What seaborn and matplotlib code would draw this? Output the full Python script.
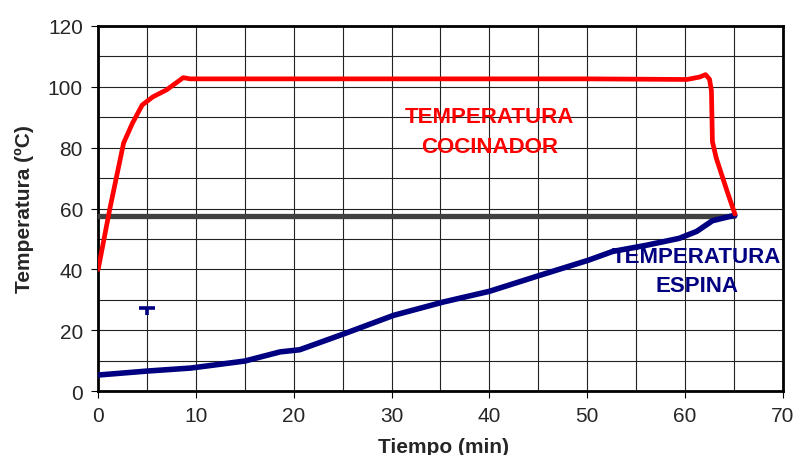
import numpy as np
import pandas as pd
import matplotlib
matplotlib.use("Agg")
import matplotlib.pyplot as plt
import seaborn as sns
from matplotlib.ticker import MultipleLocator

# chart values
cocinador_t = [0, 1.2, 2.6, 3.5, 4.5, 5.6, 7.0, 8.7, 9.4, 20, 30, 40, 50, 60.2, 61.5, 62.1, 62.5, 62.7, 62.8, 63.2, 64.3, 65.1]
cocinador_temp = [40, 60, 81.5, 88, 94, 96.7, 99, 103, 102.6, 102.6, 102.6, 102.6, 102.6, 102.4, 103.2, 104, 102.5, 98.7, 82, 76.5, 65.7, 58.2]

espina_t = [0, 5, 9.5, 15, 18.6, 20.6, 25.1, 30.2, 35.3, 40.0, 45.1, 50.1, 52.6, 56, 59.4, 61.2, 62.8, 65.1]
espina_temp = [5.3, 6.6, 7.6, 9.9, 12.9, 13.6, 18.8, 24.9, 29.3, 32.8, 38.0, 43.0, 45.9, 47.9, 50.2, 52.5, 56.0, 57.8]

limite_t = [0, 65]
limite_temp = [57.5, 57.5]

punto_t = [5]
punto_temp = [27.4]

df_coc = pd.DataFrame({"t": cocinador_t, "temp": cocinador_temp})
df_esp = pd.DataFrame({"t": espina_t, "temp": espina_temp})
df_lim = pd.DataFrame({"t": limite_t, "temp": limite_temp})

sns.set_style("white")
plt.rcParams['font.family'] = ['Liberation Sans', 'DejaVu Sans']

fig, ax = plt.subplots(figsize=(7.98, 4.56), dpi=100)
fig.subplots_adjust(left=0.123, right=0.981, top=0.941, bottom=0.140)

sns.lineplot(data=df_lim, x="t", y="temp", ax=ax, color="#404040", linewidth=3.8, sort=False, zorder=3)
sns.lineplot(data=df_esp, x="t", y="temp", ax=ax, color="#000080", linewidth=4.0, sort=False, zorder=4,
             solid_joinstyle="round", solid_capstyle="round")
sns.lineplot(data=df_coc, x="t", y="temp", ax=ax, color="#ff0000", linewidth=3.4, sort=False, zorder=5,
             solid_joinstyle="round", solid_capstyle="round")

# the small stray point near (5, 27)
ax.plot(punto_t, punto_temp, marker="_", markersize=11, markeredgewidth=2.6, color="#000080", zorder=6)
ax.plot(punto_t, punto_temp, marker=3, markersize=5, markeredgewidth=2.6, color="#000080", zorder=6)

ax.set_xlim(0, 70)
ax.set_ylim(0, 120)
ax.xaxis.set_major_locator(MultipleLocator(10))
ax.xaxis.set_minor_locator(MultipleLocator(5))
ax.yaxis.set_major_locator(MultipleLocator(20))
ax.yaxis.set_minor_locator(MultipleLocator(10))
ax.grid(True, which="both", color="#222222", linewidth=0.8)
ax.set_axisbelow(True)

for s in ax.spines.values():
    s.set_visible(True)
    s.set_color("black")
    s.set_linewidth(2.0)

ax.tick_params(which="major", direction="out", length=5, width=0.8, color="black",
               labelsize=15, pad=6, bottom=True, left=True)
ax.tick_params(which="minor", length=0)

ax.set_xlabel("Tiempo (min)", fontsize=15, fontweight="bold")
ax.set_ylabel("Temperatura (ºC)", fontsize=15, fontweight="bold")
ax.xaxis.set_label_coords(0.505, -0.125)
ax.yaxis.set_label_coords(-0.093, 0.5)

ax.text(40, 85.3, "TEMPERATURA\nCOCINADOR", color="#ff0000", fontsize=16, fontweight="bold",
        ha="center", va="center", linespacing=1.55, zorder=7)
ax.text(61.2, 39.4, "TEMPERATURA\nESPINA", color="#000080", fontsize=16, fontweight="bold",
        ha="center", va="center", linespacing=1.5, zorder=7)

fig.savefig("out.png", dpi=100)
